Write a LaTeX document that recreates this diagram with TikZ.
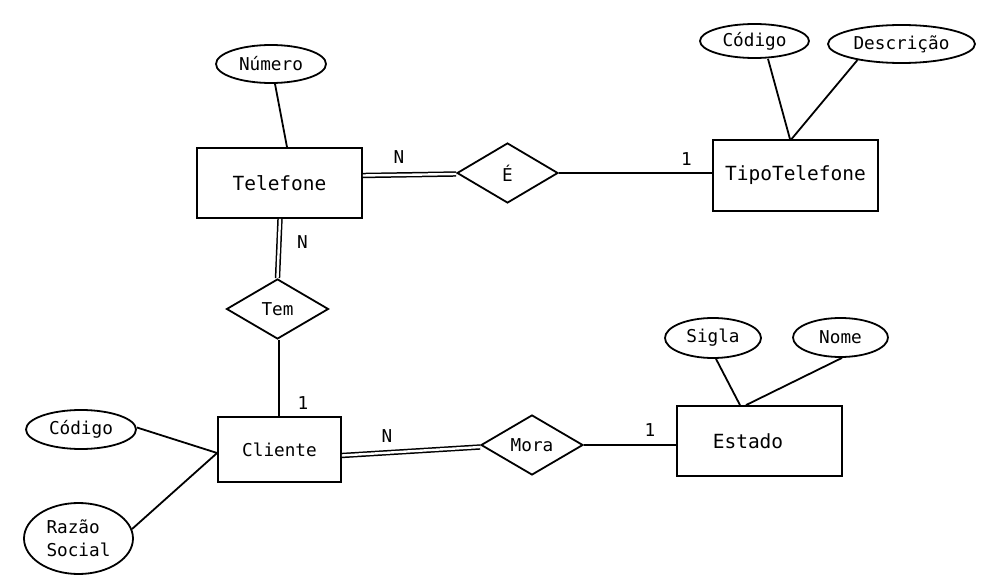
\documentclass[tikz,border=0pt]{standalone}
\usepackage{fontspec}
\setmainfont{DejaVu Sans Mono}
\usetikzlibrary{shapes.geometric}
\begin{document}
\begin{tikzpicture}[x=1pt,y=-1pt,
  line width=1.8pt,
  big/.style={font=\fontsize{19.5}{23}\selectfont},
  small/.style={font=\fontsize{17.7}{23}\selectfont},
  ent/.style={draw, rectangle, inner sep=0pt, big},
  attr/.style={draw, ellipse, inner sep=0pt, small},
  rel/.style={draw, diamond, aspect=1.7, inner sep=0pt, minimum width=101pt, minimum height=60pt, small},
  card/.style={small, inner sep=0pt},
  conn/.style={line width=1.8pt},
  dbl/.style={double, line width=1.5pt, double distance=2.4pt}
]
\useasboundingbox (0,0) rectangle (989,580);

% entities
\node[ent, minimum width=165pt, minimum height=70pt] (tel) at (279.5,183) {Telefone};
\node[ent, minimum width=165pt, minimum height=71pt] (tt) at (795.5,175.5) {TipoTelefone};
\node[ent, minimum width=123pt, minimum height=65pt, small] (cli) at (279.5,449.5) {Cliente};
\node[ent, minimum width=165pt, minimum height=70pt] (est) at (759.5,441) {Estado\kern23pt};

% relationships
\node[rel] (e) at (507.5,173) {É};
\node[rel, minimum width=102pt] (tem) at (277.5,309) {Tem};
\node[rel, minimum width=102pt] (mora) at (532,445) {Mora};

% attributes
\node[attr, minimum width=110pt, minimum height=38pt] (num) at (271,64) {Número};
\node[attr, minimum width=109pt, minimum height=34pt] (cod1) at (754.5,41) {Código};
\node[attr, minimum width=147pt, minimum height=38pt] (desc) at (901.5,44) {Descrição};
\node[attr, minimum width=96pt, minimum height=40pt] (sig) at (713,338) {Sigla};
\node[attr, minimum width=95pt, minimum height=39pt] (nome) at (840.5,337.5) {Nome};
\node[attr, minimum width=110pt, minimum height=39pt] (cod2) at (81,429.5) {Código};
\node[attr, minimum width=109pt, minimum height=71pt, align=left] (raz) at (78.5,538.5) {Razão\\Social};

% cardinality labels
\node[card] (n1) at (399,157) {N};
\node[card] (c1) at (686.5,159.5) {1};
\node[card] (n2) at (302.5,242) {N};
\node[card] (c2) at (303,403) {1};
\node[card] (n3) at (387,436) {N};
\node[card] (c3) at (650,430) {1};

% attribute connectors
\draw[conn] ([xshift=4pt]num.south) -- ([xshift=7.5pt]tel.north);
\draw[conn] ([xshift=13.5pt]cod1.south) -- ([xshift=-5.5pt]tt.north);
\draw[conn] (desc.200) -- ([xshift=-4pt]tt.north);
\draw[conn] ([xshift=3pt]sig.south) -- ([xshift=-19.5pt]est.north);
\draw[conn] ([xshift=1.5pt]nome.south) -- ([xshift=-13.5pt]est.north);
\draw[conn] ([yshift=2pt]cod2.east) -- ([yshift=-3.5pt]cli.west);
\draw[conn] (raz.10) -- ([yshift=-3.5pt]cli.west);

% relationship connectors
\draw[dbl] ([yshift=7.5pt]tel.east) -- ([yshift=-1pt]e.west);
\draw[conn] (e.east) -- (e.east -| tt.west);
\draw[dbl] ([xshift=0.5pt]tel.south) -- (tem.north);
\draw[conn] ([xshift=1.5pt]tem.south) -- ([xshift=1.5pt]tem.south |- cli.north);
\draw[dbl] ([yshift=-6pt]cli.east) -- ([yshift=-2pt]mora.west);
\draw[conn] (mora.east) -- (mora.east -| est.west);
\end{tikzpicture}
\end{document}
